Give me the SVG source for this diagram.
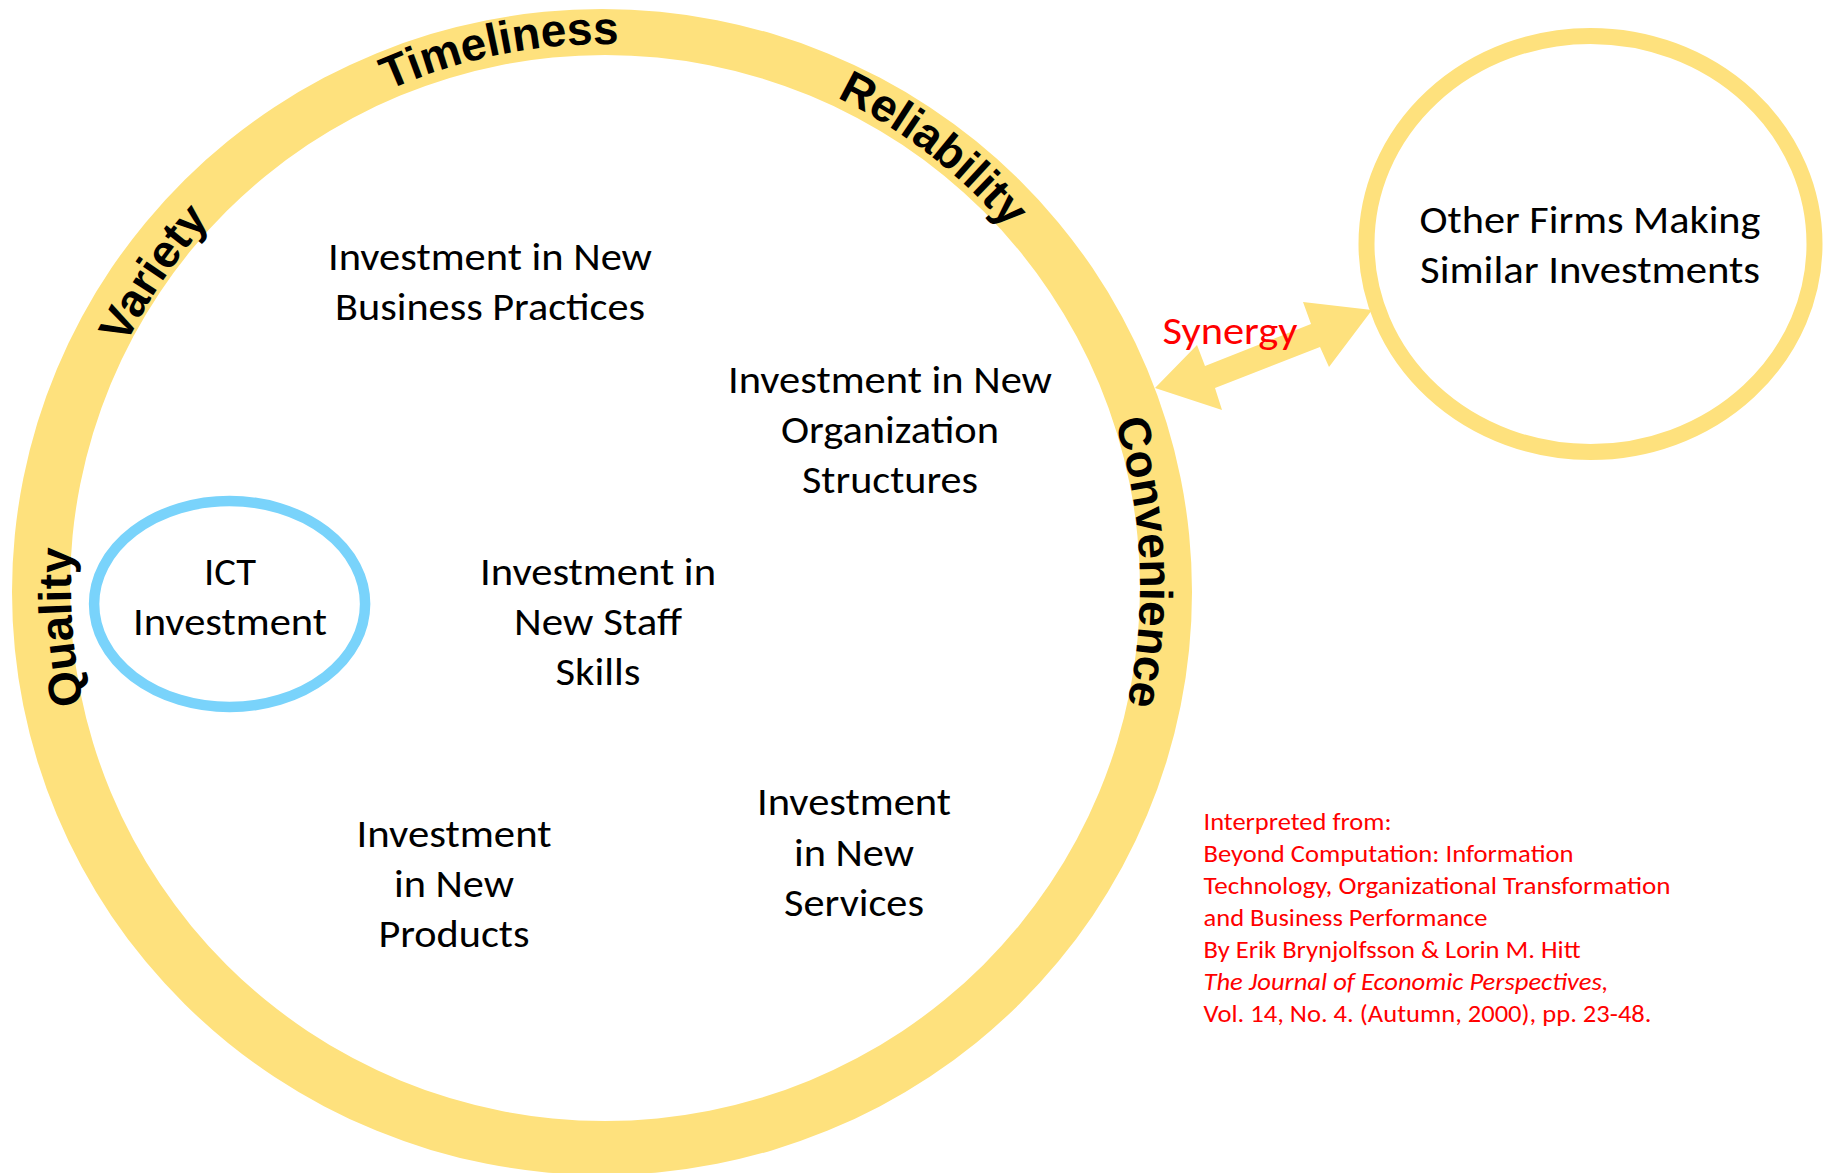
<svg xmlns="http://www.w3.org/2000/svg" width="1826" height="1173" viewBox="0 0 1826 1173">
<style>
.body{font-family:Carlito,Lato,"Open Sans",sans-serif;font-size:38px;fill:#000;text-anchor:middle}
.ring{font-family:"Liberation Sans",Arial,sans-serif;font-weight:bold;font-size:46px;fill:#000;text-anchor:middle}
.cite{font-family:Carlito,Lato,"Open Sans",sans-serif;font-size:23.5px;fill:#FF0000}
.syn{font-family:Carlito,Lato,"Open Sans",sans-serif;font-size:38px;fill:#FF0000;text-anchor:middle}
.yel{fill:#FEE17D}
</style>
<defs>
<path id="ringPath" d="M605,1128 A535,542 0 1,1 605,44 A535,542 0 1,1 605,1128"/>
<path id="ringPathL" d="M603,1128 A532,542 0 1,1 603,44 A532,542 0 1,1 603,1128"/>
</defs>
<rect width="1826" height="1173" fill="#FFFFFF"/>

<g id="firm-ring">
<path class="yel" fill-rule="evenodd" d="M12,592 a590,583 0 1,0 1180,0 a590,583 0 1,0 -1180,0 Z M70,588 a535,533 0 1,0 1070,0 a535,533 0 1,0 -1070,0 Z"/>
<text class="ring"><textPath href="#ringPathL" startOffset="23.8%">Quality</textPath></text>
<text class="ring"><textPath href="#ringPath" startOffset="34.6%">Variety</textPath></text>
<text class="ring"><textPath href="#ringPath" startOffset="46.9%">Timeliness</textPath></text>
<text class="ring"><textPath href="#ringPath" startOffset="60.3%">Reliability</textPath></text>
<text class="ring"><textPath href="#ringPath" startOffset="74.3%">Convenience</textPath></text>
</g>

<g id="other-firms">
<ellipse cx="1590.5" cy="244" rx="224" ry="208" fill="none" stroke="#FEE17D" stroke-width="16"/>
<text class="body" x="1590" y="233" textLength="341" lengthAdjust="spacingAndGlyphs">Other Firms Making</text>
<text class="body" x="1590" y="283" textLength="340" lengthAdjust="spacingAndGlyphs">Similar Investments</text>
</g>

<g id="ict-investment">
<ellipse cx="229.6" cy="604" rx="135.5" ry="103" fill="none" stroke="#79D3FB" stroke-width="10.5"/>
<text class="body" x="230" y="585" textLength="52" lengthAdjust="spacingAndGlyphs">ICT</text>
<text class="body" x="230" y="635" textLength="194" lengthAdjust="spacingAndGlyphs">Investment</text>
</g>

<g id="business-practices">
<text class="body" x="490" y="270" textLength="324" lengthAdjust="spacingAndGlyphs">Investment in New</text>
<text class="body" x="490" y="320" textLength="310" lengthAdjust="spacingAndGlyphs">Business Practices</text>
</g>

<g id="organization-structures">
<text class="body" x="890" y="393" textLength="324" lengthAdjust="spacingAndGlyphs">Investment in New</text>
<text class="body" x="890" y="443" textLength="218" lengthAdjust="spacingAndGlyphs">Organization</text>
<text class="body" x="890" y="493" textLength="176" lengthAdjust="spacingAndGlyphs">Structures</text>
</g>

<g id="staff-skills">
<text class="body" x="598" y="585" textLength="236" lengthAdjust="spacingAndGlyphs">Investment in</text>
<text class="body" x="598" y="635" textLength="168" lengthAdjust="spacingAndGlyphs">New Staff</text>
<text class="body" x="598" y="685" textLength="85" lengthAdjust="spacingAndGlyphs">Skills</text>
</g>

<g id="new-products">
<text class="body" x="454" y="847" textLength="195" lengthAdjust="spacingAndGlyphs">Investment</text>
<text class="body" x="454" y="897" textLength="120" lengthAdjust="spacingAndGlyphs">in New</text>
<text class="body" x="454" y="947" textLength="151" lengthAdjust="spacingAndGlyphs">Products</text>
</g>

<g id="new-services">
<text class="body" x="854" y="815" textLength="194" lengthAdjust="spacingAndGlyphs">Investment</text>
<text class="body" x="854" y="866" textLength="120" lengthAdjust="spacingAndGlyphs">in New</text>
<text class="body" x="854" y="916" textLength="140" lengthAdjust="spacingAndGlyphs">Services</text>
</g>

<g id="connectors">
<polygon class="yel" points="1155,388 1197,345 1205,366 1311,324 1303,302 1372,310 1329,367 1320,347 1215,388 1222,410"/>
<text class="syn" x="1230" y="344" textLength="135" lengthAdjust="spacingAndGlyphs">Synergy</text>
</g>

<g id="citation">
<text class="cite" x="1203.5" y="830" textLength="188" lengthAdjust="spacingAndGlyphs">Interpreted from:</text>
<text class="cite" x="1203.5" y="862" textLength="370" lengthAdjust="spacingAndGlyphs">Beyond Computation: Information</text>
<text class="cite" x="1203.5" y="894" textLength="467" lengthAdjust="spacingAndGlyphs">Technology, Organizational Transformation</text>
<text class="cite" x="1203.5" y="926" textLength="284" lengthAdjust="spacingAndGlyphs">and Business Performance</text>
<text class="cite" x="1203.5" y="958" textLength="377" lengthAdjust="spacingAndGlyphs">By Erik Brynjolfsson &amp; Lorin M. Hitt</text>
<text class="cite" x="1203.5" y="990" textLength="405" lengthAdjust="spacingAndGlyphs" font-style="italic">The Journal of Economic Perspectives,</text>
<text class="cite" x="1203.5" y="1022" textLength="448" lengthAdjust="spacingAndGlyphs">Vol. 14, No. 4. (Autumn, 2000), pp. 23-48.</text>
</g>
</svg>
